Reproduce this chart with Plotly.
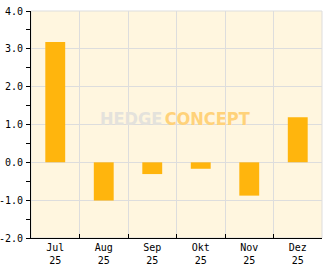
import plotly.graph_objects as go

months = ["Jul<br>25", "Aug<br>25", "Sep<br>25", "Okt<br>25", "Nov<br>25", "Dez<br>25"]
values = [3.18, -1.01, -0.31, -0.17, -0.88, 1.19]
y_ticks = [-2, -1, 0, 1, 2, 3, 4]
y_labels = ["-2.0", "-1.0", "0.0", "1.0", "2.0", "3.0", "4.0"]

fig = go.Figure(go.Bar(x=months, y=values, marker=dict(color="#FFB50D", line=dict(width=0)), width=0.41))

font = dict(family="DejaVu Sans Mono", size=10, color="#000000")
fig.update_layout(
    width=332, height=269,
    margin=dict(l=31, r=10, t=11, b=31, autoexpand=False),
    paper_bgcolor="#FFFFFF", plot_bgcolor="#FFF6DF",
    showlegend=False, font=font, bargap=0.59,
)
fig.update_xaxes(
    type="category", tickson="boundaries", ticks="inside", ticklen=4, tickcolor="#000000",
    showgrid=True, gridcolor="#DDDDDD", gridwidth=1,
    showline=True, linecolor="#000000", linewidth=1, mirror=False,
    tickfont=font, fixedrange=True, automargin=False,
)
fig.update_yaxes(
    range=[-2, 4], tickvals=y_ticks, ticktext=y_labels, ticks="outside", ticklen=4, tickcolor="#000000",
    minor=dict(dtick=0.5, ticks="outside", ticklen=4, tickcolor="#000000", showgrid=False),
    showgrid=True, gridcolor="#DDDDDD", gridwidth=1, zeroline=False,
    showline=True, linecolor="#000000", linewidth=1,
    tickfont=font, fixedrange=True, automargin=False, ticklabelstandoff=1,
)
# top/right light border
fig.add_shape(type="rect", xref="paper", yref="paper", x0=0, y0=0, x1=1, y1=1,
              line=dict(color="#DDDDDD", width=1), layer="below")
fig.add_annotation(
    xref="paper", yref="paper", x=0.495, y=0.525, showarrow=False,
    text="<span style='color:#E4E2DC'>HEDGE</span><span style='font-size:7px'> </span><span style='color:#FFD27A'>CONCEPT</span>",
    font=dict(family="DejaVu Sans Condensed", size=18, weight="bold"),
)
fig.write_html("out.html")
